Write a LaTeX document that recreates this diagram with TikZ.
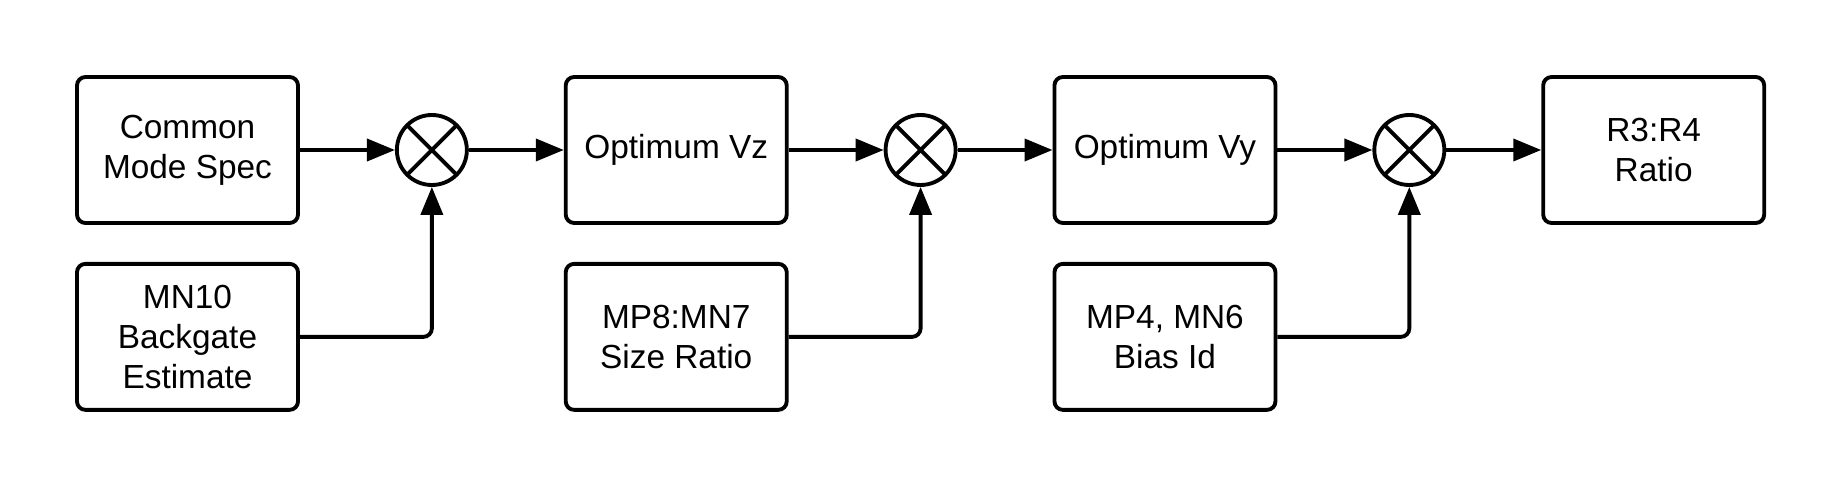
\documentclass[tikz,border=0pt]{standalone}
\usepackage{fontspec}
\setmainfont{Liberation Sans}
\usetikzlibrary{positioning, arrows.meta}
\tikzset{
  blk/.style={draw=black, rounded corners=2.4pt, align=center, font=\fontsize{9.5}{11.4}\selectfont,
              minimum height=1.46cm, minimum width=2.21cm, inner sep=2pt, line width=1.1pt},
  mix/.style={circle, draw=black, minimum size=0.70cm, inner sep=0pt, line width=1.1pt,
              path picture={\draw[line width=1.1pt] (path picture bounding box.north west) -- (path picture bounding box.south east)
                            (path picture bounding box.north east) -- (path picture bounding box.south west);}},
  arr/.style={-{Triangle[length=0.28cm, width=0.22cm]}, line width=1.1pt, draw=black},
}
\begin{document}
\begin{tikzpicture}[node distance=0.37cm and 0.95cm]
        \useasboundingbox (0,0) rectangle (18.38,4.88);
        \node[blk] (cm) at (1.875,3.38) {Common\\Mode Spec};
        \node[blk, below=of cm] (mn10) {MN10\\Backgate\\Estimate};
        \node[mix, right=of cm] (x1) {};
        \node[blk, right=of x1] (vz) {Optimum Vz};
        \node[blk, below=of vz] (mp8) {MP8:MN7\\Size Ratio};
        \node[mix, right=of vz] (x2) {};
        \node[blk, right=of x2] (vy) {Optimum Vy};
        \node[blk, below=of vy] (mp4) {MP4, MN6\\Bias Id};
        \node[mix, right=of vy] (x3) {};
        \node[blk, right=of x3] (r34) {R3:R4\\Ratio};
        \draw[arr] (cm) -- (x1); \draw[arr] (x1) -- (vz);
        \draw[arr] (vz) -- (x2); \draw[arr] (x2) -- (vy);
        \draw[arr] (vy) -- (x3); \draw[arr] (x3) -- (r34);
        \draw[arr, rounded corners=2.4pt] (mn10) -| (x1);
        \draw[arr, rounded corners=2.4pt] (mp8) -| (x2);
        \draw[arr, rounded corners=2.4pt] (mp4) -| (x3);
      \end{tikzpicture}
\end{document}
